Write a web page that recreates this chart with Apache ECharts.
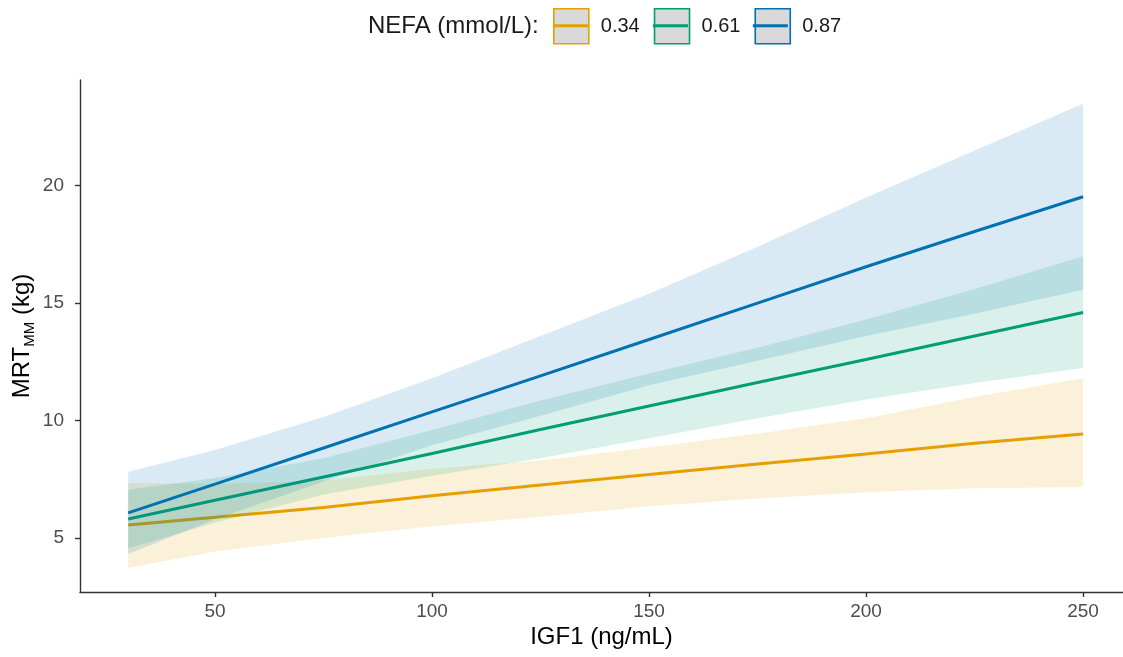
<!DOCTYPE html>
<html>
<head>
<meta charset="utf-8">
<script src="https://cdn.jsdelivr.net/npm/echarts@6/dist/echarts.min.js"></script>
<style>
html,body{margin:0;padding:0;background:#fff;}
#chart{width:1123px;height:657px;}
</style>
</head>
<body>
<div id="chart"></div>
<script>
// ---- data ----
const igf = [30, 50, 75, 100, 125, 150, 175, 200, 225, 250];
const groupNames = ['0.34', '0.61', '0.87'];

const fit034 = [5.55, 5.88, 6.30, 6.80, 7.26, 7.70, 8.15, 8.58, 9.03, 9.43];
const lo034  = [3.72, 4.42, 5.00, 5.50, 5.90, 6.35, 6.68, 6.95, 7.12, 7.17];
const hi034  = [7.34, 7.30, 7.45, 7.95, 8.30, 8.85, 9.45, 10.10, 11.00, 11.80];

const fit061 = [5.81, 6.61, 7.60, 8.60, 9.62, 10.62, 11.62, 12.60, 13.60, 14.60];
const lo061  = [4.55, 5.65, 6.85, 7.65, 8.40, 9.25, 10.10, 10.90, 11.60, 12.24];
const hi061  = [7.05, 7.55, 8.40, 9.60, 10.85, 12.00, 13.10, 14.30, 15.60, 17.00];

const fit087 = [6.07, 7.29, 8.83, 10.37, 11.90, 13.45, 15.00, 16.55, 18.05, 19.53];
const lo087  = [4.32, 5.80, 7.40, 8.95, 10.20, 11.50, 12.55, 13.60, 14.55, 15.57];
const hi087  = [7.82, 8.75, 10.15, 11.80, 13.60, 15.40, 17.40, 19.50, 21.50, 23.49];

const xTicks = [50, 100, 150, 200, 250];
const yTicks = [5, 10, 15, 20];

// ---- styling ----
const colors = ['#E69F00', '#009E73', '#0072B2'];
const fits = [fit034, fit061, fit087];
const los = [lo034, lo061, lo087];
const his = [hi034, hi061, hi087];
const FONT = 'Liberation Sans, Arial, sans-serif';

function bandSeries(k, z) {
  const lo = los[k], hi = his[k];
  return {
    type: 'custom',
    name: groupNames[k] + ' band',
    silent: true,
    z: z,
    data: igf.map((x, i) => [x, lo[i], hi[i]]),
    encode: { x: 0, y: [1, 2] },
    renderItem: function (params, api) {
      if (params.dataIndex !== 0) return;
      const pts = [];
      for (let i = 0; i < igf.length; i++) pts.push(api.coord([igf[i], hi[i]]));
      for (let i = igf.length - 1; i >= 0; i--) pts.push(api.coord([igf[i], lo[i]]));
      return {
        type: 'polygon',
        shape: { points: pts },
        style: { fill: colors[k], opacity: 0.15 }
      };
    }
  };
}

function lineSeries(k, z) {
  return {
    type: 'line',
    name: groupNames[k],
    z: z,
    showSymbol: false,
    symbol: 'none',
    silent: true,
    color: colors[k],
    lineStyle: { color: colors[k], width: 3 },
    emphasis: { disabled: true },
    data: igf.map((x, i) => [x, fits[k][i]])
  };
}

const series = [];
for (let k = 0; k < 3; k++) {
  series.push(bandSeries(k, 2 + 2 * k));
  series.push(lineSeries(k, 3 + 2 * k));
}

const legendCommon = {
  left: 553,
  orient: 'horizontal',
  padding: 0,
  itemWidth: 35,
  itemGap: 14,
  selectedMode: false,
  textStyle: { fontFamily: FONT, fontSize: 20, color: '#1a1a1a', padding: [0, 0, 0, 7] }
};

const option = {
  backgroundColor: '#ffffff',
  animation: false,
  title: {
    text: 'NEFA (mmol/L):',
    left: 368,
    top: 14,
    padding: 0,
    textStyle: { fontFamily: FONT, fontSize: 24, fontWeight: 'normal', color: '#1a1a1a' }
  },
  legend: [
    Object.assign({}, legendCommon, {
      top: 8,
      itemHeight: 35,
      data: groupNames.map((n, k) => ({
        name: n,
        icon: 'rect',
        itemStyle: { color: '#D9D9D9', borderColor: colors[k], borderWidth: 1.6 }
      }))
    }),
    Object.assign({}, legendCommon, {
      top: 15.7,
      itemHeight: 3,
      textStyle: Object.assign({}, legendCommon.textStyle, { color: 'rgba(0,0,0,0)', lineHeight: 3 }),
      data: groupNames.map((n, k) => ({
        name: n,
        icon: 'rect',
        itemStyle: { color: colors[k], borderWidth: 0 }
      }))
    })
  ],
  grid: { left: 80, right: 0, top: 80, bottom: 65, containLabel: false, outerBoundsMode: 'none' },
  xAxis: {
    type: 'value',
    min: 18.9,
    max: 259.2,
    name: 'IGF1 (ng/mL)',
    nameLocation: 'middle',
    nameGap: 33,
    nameMoveOverlap: false,
    nameTextStyle: { fontFamily: FONT, fontSize: 24, color: '#000' },
    axisLine: { show: true, onZero: false, lineStyle: { color: '#333', width: 1.4 } },
    axisTick: { show: true, length: 5, customValues: xTicks, lineStyle: { color: '#333', width: 1.4 } },
    axisLabel: { customValues: xTicks, margin: 10, fontFamily: FONT, fontSize: 19, color: '#4D4D4D' },
    splitLine: { show: false }
  },
  yAxis: {
    type: 'value',
    min: 2.7,
    max: 24.5,
    name: '{a|MRT}{b|MM}{a| (kg)}',
    nameLocation: 'middle',
    nameRotate: 90,
    nameGap: 43,
    nameMoveOverlap: false,
    nameTextStyle: {
      fontFamily: FONT,
      color: '#000',
      rich: {
        a: { fontFamily: FONT, fontSize: 24, color: '#000', lineHeight: 30, verticalAlign: 'middle' },
        b: { fontFamily: FONT, fontSize: 15, color: '#000', lineHeight: 30, verticalAlign: 'bottom' }
      }
    },
    axisLine: { show: true, onZero: false, lineStyle: { color: '#333', width: 1.4 } },
    axisTick: { show: true, length: 5, customValues: yTicks, lineStyle: { color: '#333', width: 1.4 } },
    axisLabel: { customValues: yTicks, margin: 16, fontFamily: FONT, fontSize: 19, color: '#4D4D4D' },
    splitLine: { show: false }
  },
  series: series
};

const chart = echarts.init(document.getElementById('chart'), null, { renderer: 'canvas' });
chart.setOption(option);
</script>
</body>
</html>
